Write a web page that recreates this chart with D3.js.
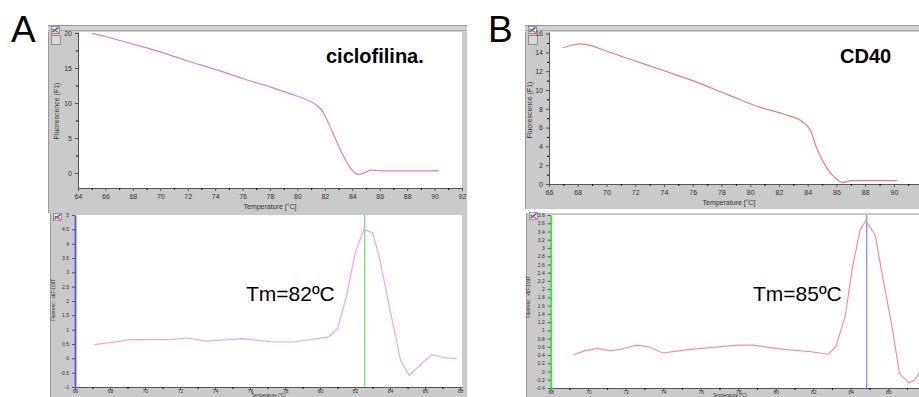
<!DOCTYPE html>
<html>
<head>
<meta charset="utf-8">
<script src="https://cdn.jsdelivr.net/npm/d3@7"></script>
<style>
  body { margin: 0; background: #fff; }
  svg { display: block; font-family: "Liberation Sans", Arial, sans-serif; }
</style>
</head>
<body>
<div id="chart"></div>
<script>
// --- panel A: ciclofilina ---
const meltTempA = [65, 66, 68, 70, 72, 74, 76, 78, 79.5, 80.5, 81.4, 81.8, 82.5, 83.2, 83.8, 84.2, 84.5, 84.9, 85.4, 86.6, 90.3];
const meltFluoA = [19.95, 19.5, 18.4, 17.3, 16.0, 14.8, 13.5, 12.3, 11.3, 10.6, 9.7, 8.9, 6.1, 3.0, 0.9, 0.0, -0.2, 0.05, 0.4, 0.3, 0.3];
const derivTempA = [67.1, 68.6, 69.1, 71.4, 72.4, 73.5, 75.6, 77.3, 78.5, 80.5, 81.0, 81.5, 82.0, 82.5, 83.0, 83.4, 84.0, 84.6, 85.1, 85.7, 86.4, 87.1, 87.8];
const derivValA = [0.48, 0.6, 0.65, 0.65, 0.71, 0.6, 0.69, 0.57, 0.57, 0.75, 1.04, 2.14, 3.66, 4.5, 4.38, 3.49, 1.68, -0.07, -0.6, -0.24, 0.13, 0.02, -0.01];

// --- panel B: CD40 ---
const meltTempB = [67.0, 68.2, 69.0, 69.8, 71.6, 74.0, 75.8, 78.6, 80.7, 82.3, 83.7, 84.2, 84.6, 85.3, 86.0, 86.4, 87.1, 90.2];
const meltFluoB = [14.5, 14.9, 14.7, 14.25, 13.3, 12.05, 11.1, 9.4, 8.15, 7.45, 6.55, 5.67, 3.9, 1.77, 0.53, 0.17, 0.35, 0.35];
const derivTempB = [69.2, 69.8, 70.5, 71.2, 71.7, 72.6, 73.2, 74.0, 75.1, 76.0, 78.0, 78.8, 80.4, 81.9, 82.8, 83.2, 83.7, 84.1, 84.5, 84.8, 85.3, 85.7, 86.2, 86.6, 87.1, 87.4, 87.7];
const derivValB = [0.4, 0.5, 0.56, 0.5, 0.54, 0.64, 0.6, 0.45, 0.52, 0.56, 0.64, 0.64, 0.54, 0.48, 0.42, 0.6, 1.33, 2.55, 3.44, 3.66, 3.32, 2.3, 1.09, -0.05, -0.28, -0.21, 0.0];

const tmValues = [82.55, 84.85];
const tmLabels = ["Tm=82ºC", "Tm=85ºC"];
const geneNames = ["ciclofilina.", "CD40"];
const panelLetters = ["A", "B"];

const svg = d3.select("#chart").append("svg")
    .attr("width", 919)
    .attr("height", 397);

const fmt = d => String(+(+d).toFixed(1));
let clipId = 0;

function drawChart(o) {
    const g = svg.append("g");
    const [fx0, fy0, fx1, fy1] = o.frame;
    const [px0, py0, px1, py1] = o.plot;

    // grey window frame
    g.append("rect")
        .attr("x", fx0).attr("y", fy0)
        .attr("width", fx1 - fx0).attr("height", fy1 - fy0)
        .attr("fill", "#cacaca");
    g.append("line")
        .attr("x1", fx0 + 0.5).attr("x2", fx0 + 0.5)
        .attr("y1", fy0).attr("y2", fy1)
        .attr("stroke", "#9a9a9a");
    if (o.strip) {
        g.append("rect")
            .attr("x", fx0).attr("y", fy0)
            .attr("width", fx1 - fx0).attr("height", py0 - fy0)
            .attr("fill", "#d2d2d2");
        g.append("line")
            .attr("x1", fx0).attr("x2", fx1)
            .attr("y1", fy0 + 0.5).attr("y2", fy0 + 0.5)
            .attr("stroke", "#999");
        g.append("line")
            .attr("x1", fx0).attr("x2", fx1)
            .attr("y1", py0 - 1.5).attr("y2", py0 - 1.5)
            .attr("stroke", "#aaa");
    }
    g.append("rect")
        .attr("x", px0).attr("y", py0)
        .attr("width", px1 - px0).attr("height", py1 - py0)
        .attr("fill", "#fff");

    // little toolbar icon
    g.append("rect")
        .attr("x", fx0 + 3.5).attr("y", o.iconY + 0.5)
        .attr("width", 8).attr("height", 7)
        .attr("fill", "#e8e8e8").attr("stroke", "#777").attr("stroke-width", 0.7);
    g.append("path")
        .attr("d", `M${fx0 + 4.5},${o.iconY + 6} L${fx0 + 10.5},${o.iconY + 1.5}`)
        .attr("stroke", "#3050e0").attr("stroke-width", 1.5);
    g.append("path")
        .attr("d", `M${fx0 + 4.5},${o.iconY + 3} L${fx0 + 10.5},${o.iconY + 6.5}`)
        .attr("stroke", "#e04040").attr("stroke-width", 1.2);
    if (o.button) {
        g.append("rect")
            .attr("x", fx0 + 3.5).attr("y", o.iconY + 9.5)
            .attr("width", 9).attr("height", 9)
            .attr("fill", "#d8d8d8").attr("stroke", "#777").attr("stroke-width", 0.7);
    }

    const x = d3.scaleLinear().domain(o.xDomain).range([px0, px1]);
    const y = d3.scaleLinear().domain(o.yDomain).range([py1, py0]);

    // axes
    const xAxis = g.append("g")
        .attr("transform", `translate(0,${py1})`)
        .call(d3.axisBottom(x).tickValues(o.xMajor).tickFormat(fmt).tickSize(3).tickSizeOuter(0));
    g.append("g")
        .attr("transform", `translate(0,${py1})`)
        .call(d3.axisBottom(x).tickValues(o.xMinor).tickFormat("").tickSize(2).tickSizeOuter(0))
        .select(".domain").remove();
    const yAxis = g.append("g")
        .attr("transform", `translate(${px0},0)`)
        .call(d3.axisLeft(y).tickValues(o.yMajor).tickFormat(fmt).tickSize(3).tickSizeOuter(0));
    if (o.yMinor) {
        g.append("g")
            .attr("transform", `translate(${px0},0)`)
            .call(d3.axisLeft(y).tickValues(o.yMinor).tickFormat("").tickSize(2).tickSizeOuter(0))
            .select(".domain").remove();
    }
    [xAxis, yAxis].forEach(a => {
        a.selectAll("path, line").attr("stroke", "#555");
        a.selectAll("text").attr("fill", "#333").style("font-size", o.fontSize + "px");
    });
    xAxis.selectAll("text").attr("y", o.xLabelY).attr("dy", "0.71em");
    if (o.yAxisColor) {
        yAxis.select(".domain").attr("stroke", o.yAxisColor).attr("stroke-width", 2);
    }

    g.append("text")
        .attr("x", (px0 + px1) / 2 + (o.xTitleShift || 0))
        .attr("y", o.xTitleY)
        .attr("text-anchor", "middle")
        .attr("fill", "#333")
        .style("font-size", (o.titleSize || o.fontSize) + "px")
        .text("Temperature [°C]");
    g.append("text")
        .attr("transform", `translate(${o.yTitlePos[0]},${o.yTitlePos[1]}) rotate(-90)`)
        .attr("text-anchor", "middle")
        .attr("fill", "#333")
        .style("font-size", o.fontSize + "px")
        .text(o.yTitle);

    // curve, clipped to the plot area
    const id = "clip" + (clipId++);
    g.append("clipPath").attr("id", id)
        .append("rect")
        .attr("x", px0).attr("y", py0)
        .attr("width", px1 - px0).attr("height", py1 - py0);
    const plotG = g.append("g").attr("clip-path", `url(#${id})`);

    if (o.tm !== undefined) {
        plotG.append("line")
            .attr("x1", x(o.tm)).attr("x2", x(o.tm))
            .attr("y1", py0).attr("y2", py1)
            .attr("stroke", o.tmColor).attr("stroke-width", 1.3);
    }
    const pts = o.temps.map((t, i) => [t, o.vals[i]]);
    plotG.append("path")
        .datum(pts)
        .attr("fill", "none")
        .attr("stroke", o.color)
        .attr("stroke-width", 1.2)
        .attr("d", d3.line().x(d => x(d[0])).y(d => y(d[1])).curve(o.curve)(pts));

    return { x, y };
}

// A top: melting curve
drawChart({
    frame: [48, 25, 467, 213], plot: [78, 32, 462, 188], strip: true, iconY: 26, button: true,
    xDomain: [64, 92], yDomain: [-2.14, 20.14],
    xMajor: d3.range(64, 93, 2), xMinor: d3.range(65, 92, 2),
    yMajor: [0, 5, 10, 15, 20], yMinor: [2.5, 7.5, 12.5, 17.5],
    fontSize: 7, xLabelY: 6, xTitleY: 209, yTitle: "Fluorescence (F1)", yTitlePos: [59, 111],
    temps: meltTempA, vals: meltFluoA, color: "#d77ee0", curve: d3.curveMonotoneX
});
// A bottom: derivative
drawChart({
    frame: [50, 213, 467, 397], plot: [75, 215, 462, 387], iconY: 213,
    xDomain: [66, 88.11], yDomain: [-1, 5],
    xMajor: d3.range(66, 89, 2), xMinor: d3.range(67, 88, 2),
    yMajor: d3.range(-1, 5.01, 0.5).map(v => +v.toFixed(1)),
    fontSize: 5, titleSize: 4.5, xLabelY: 2, xTitleY: 397, yTitle: "Fluoresc. -d(F1)/dT", yTitlePos: [55, 300],
    yAxisColor: "#5a5af0", tm: tmValues[0], tmColor: "#7de07d",
    temps: derivTempA, vals: derivValA, color: "#eea4ee", curve: d3.curveLinear
});
// B top: melting curve
drawChart({
    frame: [525, 25, 935, 209], plot: [549, 32, 925, 184], strip: true, iconY: 26, button: true,
    xDomain: [66, 92.16], yDomain: [0, 16.17],
    xMajor: d3.range(66, 91, 2), xMinor: d3.range(67, 92, 1).filter(v => v % 2 || v > 90),
    yMajor: d3.range(0, 17, 2), yMinor: d3.range(1, 16, 2),
    fontSize: 7, xLabelY: 6, xTitleY: 205, xTitleShift: -8, yTitle: "Fluorescence (F1)", yTitlePos: [532, 110],
    temps: meltTempB, vals: meltFluoB, color: "#f77878", curve: d3.curveMonotoneX
});
// B bottom: derivative
drawChart({
    frame: [526, 213, 935, 397], plot: [550.7, 215, 925, 388], iconY: 212,
    xDomain: [68, 87.96], yDomain: [-0.4, 3.8],
    xMajor: d3.range(68, 87, 2), xMinor: d3.range(69, 88, 1).filter(v => v % 2 || v > 86),
    yMajor: d3.range(-0.4, 3.81, 0.2).map(v => +v.toFixed(1)),
    fontSize: 5, titleSize: 4.5, xLabelY: 2, xTitleY: 397, xTitleShift: -8, yTitle: "Fluoresc. -d(F1)/dT", yTitlePos: [530, 297],
    yAxisColor: "#44dd44", tm: tmValues[1], tmColor: "#8c8cf4",
    temps: derivTempB, vals: derivValB, color: "#fb8e8e", curve: d3.curveLinear
});

// annotations
const letterX = [11, 488];
panelLetters.forEach((t, i) => {
    svg.append("text").attr("x", letterX[i]).attr("y", 41.5)
        .style("font-size", "37px").attr("fill", "#000").text(t);
});
const geneX = [326, 840], geneY = [62.5, 63];
geneNames.forEach((t, i) => {
    svg.append("text").attr("x", geneX[i]).attr("y", geneY[i])
        .style("font-size", "20px").style("font-weight", "bold").attr("fill", "#000").text(t);
});
const tmX = [246, 753];
tmLabels.forEach((t, i) => {
    svg.append("text").attr("x", tmX[i]).attr("y", 301)
        .style("font-size", "21px").attr("fill", "#000").text(t);
});
</script>
</body>
</html>
